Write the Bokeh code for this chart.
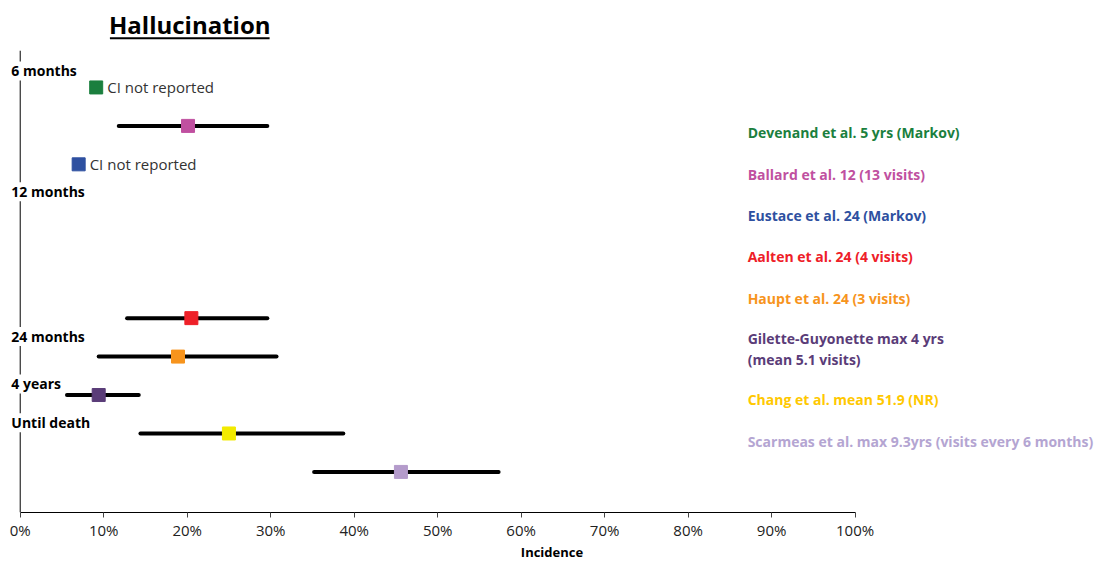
import math
from bokeh.plotting import figure
from bokeh.models import Range1d, FixedTicker, ColumnDataSource, LabelSet, Label
from bokeh.core.properties import value
from bokeh.embed import file_html
from bokeh.resources import INLINE

# ---------------- data ----------------
chart_title = "Hallucination"
studies = [
    "Devenand et al. 5 yrs (Markov)",
    "Ballard et al. 12 (13 visits)",
    "Eustace et al. 24 (Markov)",
    "Aalten et al. 24 (4 visits)",
    "Haupt et al. 24 (3 visits)",
    "Gilette-Guyonette max 4 yrs\n(mean 5.1 visits)",
    "Chang et al. mean 51.9 (NR)",
    "Scarmeas et al. max 9.3yrs (visits every 6 months)",
]
marker_colors = ["#1b7f3e", "#c050a0", "#2e50a0", "#ee2028", "#f7941d", "#5a3c78", "#f2ea00", "#b49bcb"]
text_colors = ["#1b7f3e", "#c050a0", "#2e50a0", "#ee2028", "#f7941d", "#5a3c78", "#ffc800", "#b4a5d2"]
incidence = [9.1, 20.1, 7.0, 20.5, 18.9, 9.4, 25.0, 45.6]
ci_low = [float("nan"), 11.8, float("nan"), 12.8, 9.4, 5.6, 14.4, 35.2]
ci_high = [float("nan"), 29.6, float("nan"), 29.6, 30.7, 14.2, 38.7, 57.3]
study_rows = [0, 1, 2, 6, 7, 8, 9, 10]
ci_note = "CI not reported"

period_labels = ["6 months", "12 months", "24 months", "4 years", "Until death"]
period_rows = [-0.43, 2.71, 6.48, 7.71, 8.72]

tick_values = [0, 10, 20, 30, 40, 50, 60, 70, 80, 90, 100]
tick_labels = ["0%", "10%", "20%", "30%", "40%", "50%", "60%", "70%", "80%", "90%", "100%"]
x_label = "Incidence"

# ---------------- geometry (in reference pixel space) ----------------
FONT = "Open Sans"
W, H = 1103, 563
REF_W, REF_H = 1119, 579
ZERO_PX, PX_PER_PCT = 20, 8.47     # reference px of 0 %, px per %
ROW0_PX, ROW_PX = 90, 39.8         # reference px of row 0, px per row
AXIS_PX = 530                      # reference px of x axis


def rx(px):
    return (px - ZERO_PX) / PX_PER_PCT


def ry(py):
    return (py - ROW0_PX) / ROW_PX


frame_h = round(AXIS_PX * H / REF_H)
p = figure(width=W, height=H, output_backend="svg", toolbar_location=None,
           x_range=Range1d(rx(0), rx(REF_W)), y_range=Range1d(ry(AXIS_PX), ry(0)),
           min_border_left=0, min_border_right=0, min_border_top=0,
           min_border_bottom=H - frame_h)
p.outline_line_color = None
p.grid.visible = False
p.yaxis.visible = False
p.background_fill_color = "white"
p.border_fill_color = "white"

ax = p.xaxis[0]
ax.bounds = (0, 100)
ax.ticker = FixedTicker(ticks=tick_values)
ax.major_label_overrides = {v: l for v, l in zip(tick_values, tick_labels)}
ax.minor_tick_line_color = None
ax.major_tick_in = 0
ax.major_tick_out = 5
ax.axis_line_color = "black"
ax.major_tick_line_color = "#444444"
ax.major_label_standoff = 2
ax.major_label_text_font = FONT
ax.major_label_text_font_size = "15px"
ax.major_label_text_color = "#222222"
ax.axis_label = x_label
ax.axis_label_standoff = 0
ax.axis_label_text_font = FONT
ax.axis_label_text_font_size = "13px"
ax.axis_label_text_font_style = "bold"
ax.axis_label_text_color = "black"

# vertical axis line
p.segment(x0=[0], y0=[ry(52)], x1=[0], y1=[ry(AXIS_PX)], line_color="black", line_width=1)

# title with underline
p.add_layout(Label(x=rx(192), y=ry(25), text=chart_title, text_align="center",
                   text_baseline="middle", text_font=FONT, text_font_size="24px",
                   text_font_style="bold", text_color="black"))
p.segment(x0=[rx(111)], y0=[ry(39)], x1=[rx(273)], y1=[ry(39)],
          line_color="black", line_width=2)

# period labels with white background over the vertical line
period_src = ColumnDataSource(dict(x=[rx(11)] * len(period_labels), y=period_rows, text=period_labels))
p.add_layout(LabelSet(x="x", y="y", text="text", source=period_src, text_align="left",
                      text_baseline="middle", text_font=value(FONT), text_font_size="14px",
                      text_font_style="bold", text_color="black",
                      background_fill_color="white"))

src = ColumnDataSource(dict(inc=incidence, lo=ci_low, hi=ci_high, row=study_rows,
                            color=marker_colors))
p.segment(x0="lo", y0="row", x1="hi", y1="row", source=src, line_color="black",
          line_width=4, line_cap="round")
p.scatter(x="inc", y="row", source=src, marker="square", size=13,
          fill_color="color", line_color="color")

note_x = [v for v, l in zip(incidence, ci_low) if math.isnan(l)]
note_y = [r for r, l in zip(study_rows, ci_low) if math.isnan(l)]
p.text(x=note_x, y=note_y, text=[ci_note] * len(note_x), x_offset=11,
       text_align="left", text_baseline="middle", text_font=value(FONT),
       text_font_size="15px", text_color="#333333")

# legend texts on the right
leg_y = []
extra = 0
for i, s in enumerate(studies):
    n = s.count("\n") + 1
    cy = 137 + 42.75 * i + 20 * extra + 10 * (n - 1)
    leg_y.append(ry(cy))
    extra += n - 1
p.text(x=[rx(758)] * len(studies), y=leg_y, text=studies, text_color=text_colors,
       text_align="left", text_baseline="middle", text_font=value(FONT),
       text_font_size="14px", text_font_style="bold", text_line_height=1.15)

open("out.html", "w").write(file_html(p, INLINE))
